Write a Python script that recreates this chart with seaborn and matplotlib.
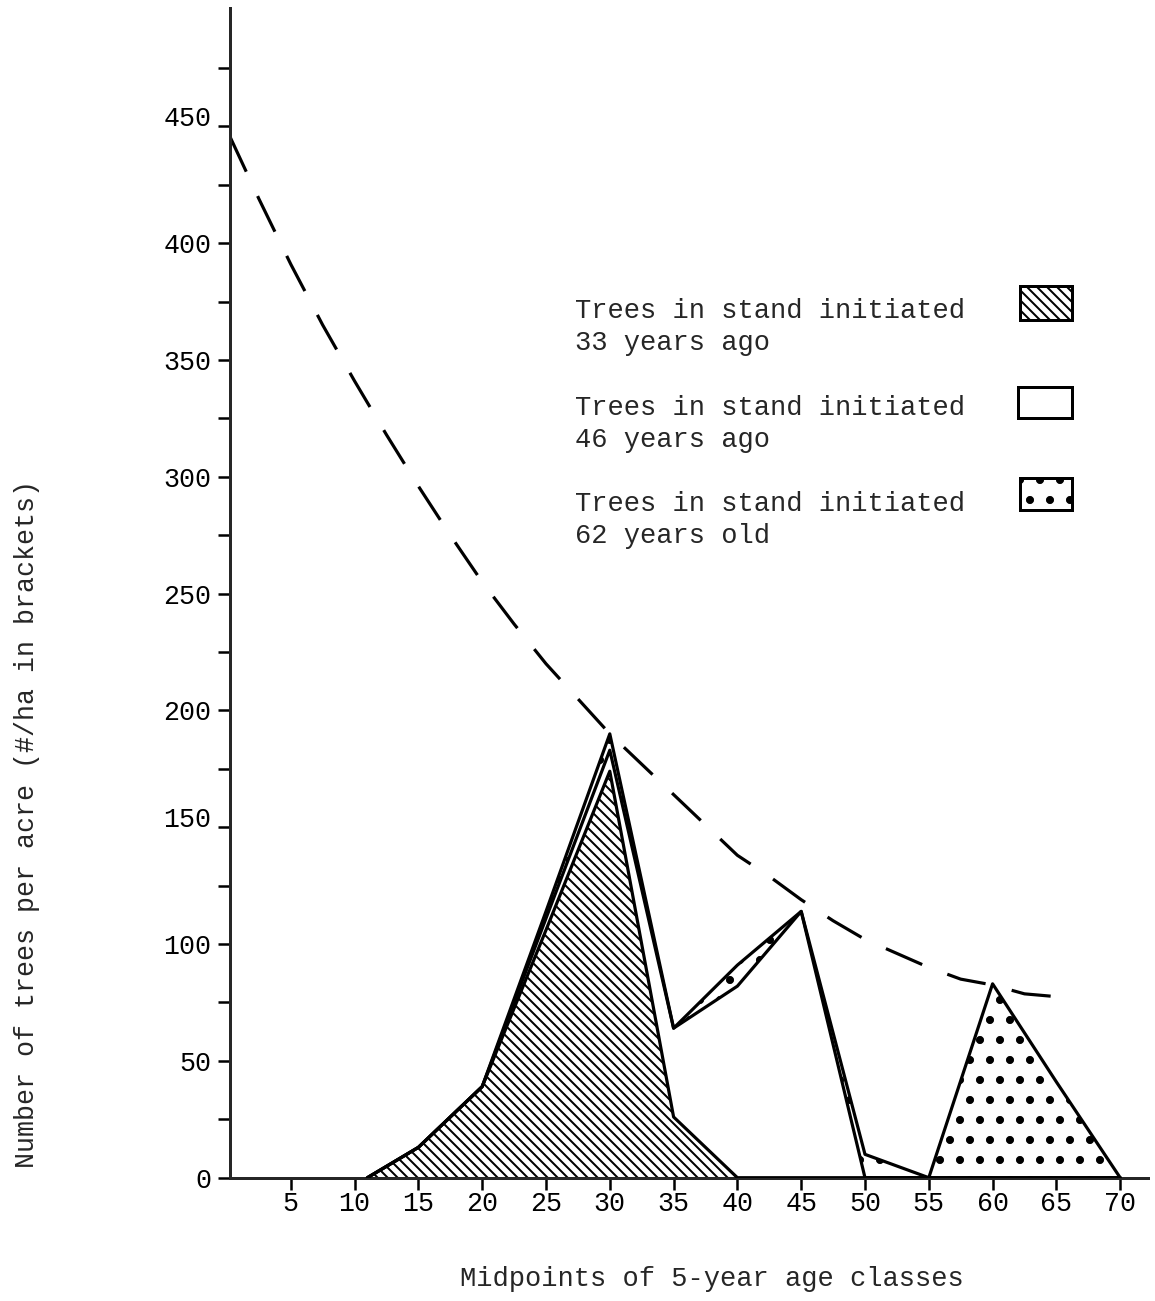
import numpy as np
import pandas as pd
import matplotlib
matplotlib.use("Agg")
import matplotlib.pyplot as plt
from matplotlib.patches import Rectangle
import seaborn as sns

# ---------------- data ----------------
age_mid = [11, 15, 20, 25, 30, 35, 40, 45, 50, 55, 60, 65, 70]
stand_33 = [0, 13, 39, 106, 174, 26, 0, 0, 0, 0, 0, 0, 0]      # hatched, bottom layer
stand_46 = [0, 0, 0, 5, 9, 38, 82, 114, 0, 0, 0, 0, 0]         # white, stacked on top
stand_62 = [0, 0, 0, 3, 7, 0, 9, 0, 10, 0, 83, 41, 0]          # dotted, stacked on top

curve_x = [0.2, 2.5, 5, 7.5, 10, 12.5, 15, 17.5, 20, 22.5, 25, 27.5, 30, 32.5,
           35, 37.5, 40, 42.5, 45, 47.5, 50, 52.5, 55, 57.5, 60, 62.5, 65, 65.8]
curve_y = [446, 419, 391, 365, 341, 318, 296, 275, 255, 237, 220, 205, 190, 177,
           164, 151, 138, 129, 119, 110, 102, 96, 90, 85, 82.5, 78.7, 77.5, 76.8]

x_ticks = [5, 10, 15, 20, 25, 30, 35, 40, 45, 50, 55, 60, 65, 70]
y_major = [0, 50, 100, 150, 200, 250, 300, 350, 400, 450]
y_minor = [25, 75, 125, 175, 225, 275, 325, 375, 425, 475]

legend_lines = [("Trees in stand initiated", "33 years ago"),
                ("Trees in stand initiated", "46 years ago"),
                ("Trees in stand initiated", "62 years old")]
HATCH_DIAG = "\\\\\\\\"
HATCH_DOTS = "."
legend_hatches = [HATCH_DIAG, "", HATCH_DOTS]

x_label = "Midpoints of 5-year age classes"
y_label = "Number of trees per acre (#/ha in brackets)"

# ---------------- style ----------------
sns.set_style("ticks")
plt.rcParams["font.family"] = ["Liberation Mono", "DejaVu Sans Mono"]
plt.rcParams["hatch.color"] = "black"
LINE_HATCH_LW = 1.2
DOT_HATCH_LW = 2.4
plt.rcParams["hatch.linewidth"] = LINE_HATCH_LW

DPI = 120
fig = plt.figure(figsize=(1155 / DPI, 1301 / DPI), dpi=DPI)
ax = fig.add_axes([230 / 1155, 1 - 1177.7 / 1301, (1148 - 230) / 1155, (1177.7 - 8) / 1301])

df = pd.DataFrame({"age": age_mid, "s33": stand_33, "s46": stand_46, "s62": stand_62})
df["top33"] = df["s33"]
df["top46"] = df["top33"] + df["s46"]
df["top62"] = df["top46"] + df["s62"]


def set_hlw(artist, value):
    if hasattr(artist, "set_hatch_linewidth"):
        artist.set_hatch_linewidth(value)
    else:
        artist._hatch_linewidth = value


# fills
f1 = ax.fill_between(df["age"], 0, df["top33"], facecolor="white", edgecolor="black",
                     hatch=HATCH_DIAG, linewidth=0, zorder=1)
set_hlw(f1, LINE_HATCH_LW)
ax.fill_between(df["age"], df["top33"], df["top46"], facecolor="white", edgecolor="black",
                linewidth=0, zorder=1)
f3 = ax.fill_between(df["age"], df["top46"], df["top62"], facecolor="white", edgecolor="black",
                     hatch=HATCH_DOTS, linewidth=0, zorder=1)
set_hlw(f3, DOT_HATCH_LW)

# outlines
lw = 1.9
for col in ["top33", "top46", "top62"]:
    sns.lineplot(data=df, x="age", y=col, color="black", linewidth=lw, ax=ax,
                 estimator=None, sort=False, zorder=3)

# dashed envelope curve
cdf = pd.DataFrame({"x": curve_x, "y": curve_y})
sns.lineplot(data=cdf, x="x", y="y", color="black", linewidth=1.9, ax=ax,
             estimator=None, sort=False, zorder=2, linestyle=(0, (12.5, 8.5)))

# axes
ax.set_xlim(0.235, 72.18)
ax.set_ylim(0, 500.7)
ax.set_xticks(x_ticks)
ax.set_xticklabels([str(t) for t in x_ticks])
ax.set_yticks(y_major)
ax.set_yticklabels([str(t) for t in y_major])
ax.set_yticks(y_minor, minor=True)
sns.despine(ax=ax)
for s in ["left", "bottom"]:
    ax.spines[s].set_linewidth(1.8)
ax.tick_params(axis="both", which="both", direction="out", width=1.5, length=7.2,
               labelsize=16, color="black", labelcolor="black")
ax.tick_params(axis="x", pad=1)
ax.tick_params(axis="y", pad=4)
for lab in ax.get_yticklabels():
    if lab.get_text() in ("450", "150"):
        lab.set_verticalalignment("baseline")

ax.set_xlabel(x_label, fontsize=16.3)
ax.set_ylabel(y_label, fontsize=16)
ax.xaxis.set_label_coords((712 - 230) / 918, -(1266 - 1177.7) / 1169.7)
ax.yaxis.set_label_coords((40 - 230) / 918, (1177.7 - 824) / 1169.7)


def ay(py):
    return (1177.7 - py) / 1169.7


def axx(px):
    return (px - 230) / 918


baselines = [(318, 350), (415, 447), (511, 543)]
boxes = [(1020, 286, 1072, 320), (1018, 387, 1072, 418), (1020, 478, 1072, 510)]
for (l1, l2), (b1, b2), hatch, (x0, y0, x1, y1) in zip(legend_lines, baselines, legend_hatches, boxes):
    ax.text(axx(575), ay(b1), l1, transform=ax.transAxes, fontsize=16.3, va="baseline", ha="left")
    ax.text(axx(575), ay(b2), l2, transform=ax.transAxes, fontsize=16.3, va="baseline", ha="left")
    r = ax.add_patch(Rectangle((axx(x0), ay(y1)), axx(x1) - axx(x0), ay(y0) - ay(y1),
                               transform=ax.transAxes, facecolor="white", edgecolor="black",
                               hatch=hatch if hatch else None, linewidth=1.8, clip_on=False,
                               zorder=4))
    set_hlw(r, DOT_HATCH_LW if hatch == HATCH_DOTS else LINE_HATCH_LW)

fig.savefig("out.png", dpi=DPI, facecolor="white")
